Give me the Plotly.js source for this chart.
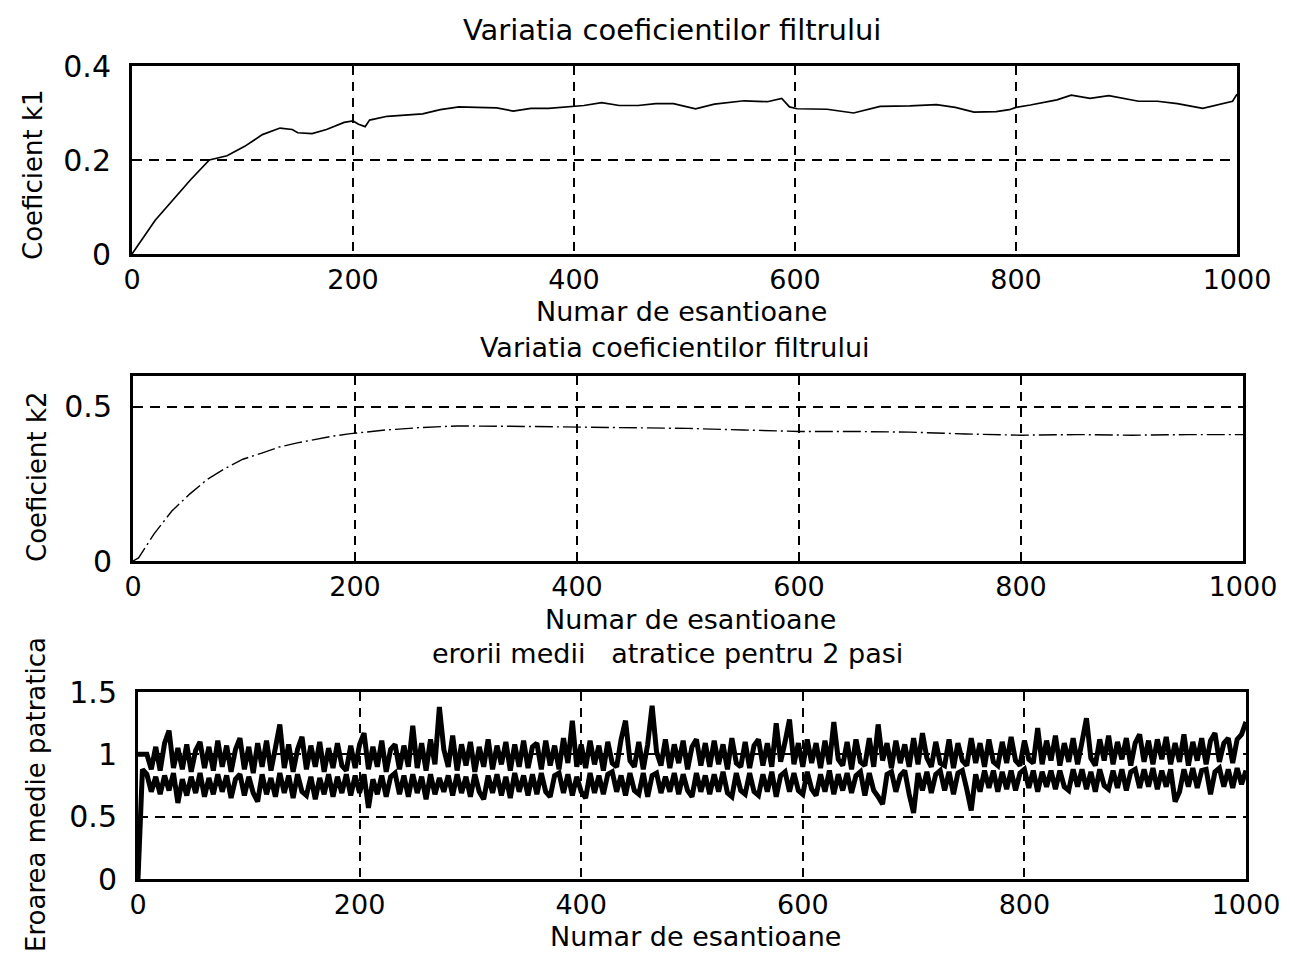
<!DOCTYPE html>
<html><head><meta charset="utf-8">
<script src="https://cdn.plot.ly/plotly-3.0.1.min.js"></script>
<style>html,body{margin:0;padding:0;background:#fff}#chart{width:1295px;height:955px}</style>
</head><body><div id="chart"></div>
<script>
// ---------- text ----------
const titleCoef = "Variatia coeficientilor filtrului";
const titleErr = "erorii medii\u00a0\u00a0 atratice pentru 2 pasi";
const xTitle = "Numar de esantioane";
const yTitleK1 = "Coeficient k1";
const yTitleK2 = "Coeficient k2";
const yTitleErr = "Eroarea medie patratica";

// ---------- ticks ----------
const xTickVals = [0, 200, 400, 600, 800, 1000];
const xTickText = ["0", "200", "400", "600", "800", "1000"];
const k1TickVals = [0, 0.2, 0.4];
const k1TickText = ["0", "0.2", "0.4"];
const k2TickVals = [0, 0.5];
const k2TickText = ["0", "0.5"];
const errTickVals = [0, 0.5, 1, 1.5];
const errTickText = ["0", "0.5", "1", "1.5"];

// ---------- data ----------
const k1Samples = [0, 10, 21, 37, 53, 70, 86, 102, 118, 134, 145, 150, 163, 176, 192, 200, 205, 211, 215, 231, 247, 263, 279, 296, 312, 330, 345, 361, 377, 396, 409, 425, 441, 458, 474, 490, 510, 527, 554, 575, 588, 595, 602, 629, 653, 677, 704, 728, 745, 762, 782, 794, 800, 813, 837, 850, 867, 884, 898, 911, 928, 946, 969, 986, 996, 1000];
const k1Values = [0, 0.035, 0.072, 0.115, 0.158, 0.200, 0.209, 0.229, 0.254, 0.268, 0.265, 0.258, 0.256, 0.265, 0.280, 0.283, 0.276, 0.271, 0.285, 0.293, 0.296, 0.298, 0.307, 0.313, 0.312, 0.311, 0.304, 0.310, 0.310, 0.313, 0.316, 0.322, 0.316, 0.316, 0.320, 0.320, 0.309, 0.319, 0.326, 0.324, 0.331, 0.313, 0.309, 0.308, 0.300, 0.314, 0.315, 0.318, 0.312, 0.302, 0.303, 0.307, 0.312, 0.317, 0.328, 0.338, 0.331, 0.337, 0.330, 0.325, 0.325, 0.320, 0.310, 0.320, 0.325, 0.340];

const k2Samples = [0, 5, 19, 35, 51, 67, 83, 99, 116, 132, 148, 164, 180, 196, 210, 228, 260, 292, 340, 370, 400, 450, 500, 550, 600, 650, 700, 750, 800, 850, 900, 950, 1000];
const k2Values = [0, 0.010, 0.088, 0.162, 0.217, 0.265, 0.300, 0.330, 0.350, 0.370, 0.383, 0.395, 0.405, 0.413, 0.418, 0.425, 0.433, 0.438, 0.437, 0.436, 0.435, 0.434, 0.430, 0.425, 0.420, 0.420, 0.418, 0.412, 0.408, 0.410, 0.408, 0.410, 0.410];

const errStep = 4; // samples between stored values
const errUpper = [
1.00, 1.00, 1.00, 0.88, 1.06, 0.87, 1.09, 1.19, 0.89, 1.05,
0.88, 1.08, 0.86, 1.03, 1.10, 0.89, 1.06, 0.87, 1.11, 0.90,
1.07, 0.86, 1.04, 1.13, 0.88, 1.06, 0.85, 1.09, 0.90, 1.11,
0.87, 1.05, 1.24, 0.89, 1.08, 0.86, 1.04, 1.14, 0.88, 1.07,
0.90, 1.10, 0.86, 1.05, 0.89, 1.09, 0.91, 0.87, 1.07, 0.89,
1.08, 1.17, 0.88, 1.06, 0.90, 1.11, 0.86, 1.04, 1.08, 0.88,
1.07, 0.90, 1.23, 0.89, 1.09, 0.87, 1.12, 0.92, 1.38, 1.04,
0.90, 1.15, 0.87, 1.08, 0.91, 1.10, 0.86, 1.06, 0.90, 1.12,
0.88, 1.07, 0.92, 1.10, 0.87, 1.08, 0.90, 1.11, 0.89, 1.06,
1.09, 0.88, 1.11, 0.91, 1.07, 0.88, 1.13, 0.93, 1.27, 0.90,
1.08, 0.89, 1.11, 0.92, 1.07, 0.87, 1.10, 0.93, 0.90, 1.12,
1.27, 0.95, 0.90, 1.10, 0.88, 1.08, 1.39, 1.02, 0.91, 1.12,
0.89, 1.08, 0.93, 1.11, 0.88, 1.06, 1.12, 0.91, 1.09, 0.90,
1.11, 0.92, 1.08, 0.88, 1.13, 0.93, 0.90, 1.10, 0.89, 1.07,
1.12, 0.91, 1.09, 0.90, 1.25, 0.94, 1.10, 1.28, 0.92, 1.09,
0.90, 1.12, 0.93, 1.09, 0.89, 1.11, 0.92, 1.26, 0.96, 0.91,
1.10, 0.88, 1.12, 0.94, 0.91, 1.13, 0.90, 1.24, 0.95, 1.09,
0.89, 1.11, 0.93, 1.08, 0.90, 1.13, 0.92, 1.17, 0.97, 0.90,
1.10, 0.93, 0.91, 1.12, 0.89, 1.09, 0.95, 0.91, 1.13, 0.93,
1.09, 0.90, 1.12, 0.94, 0.91, 1.10, 0.93, 1.14, 0.95, 0.91,
1.11, 0.96, 0.93, 1.21, 0.92, 1.11, 0.95, 1.15, 0.91, 1.09,
0.94, 1.13, 0.92, 1.10, 1.29, 0.97, 0.91, 1.12, 0.95, 1.15,
0.92, 1.10, 0.96, 1.13, 0.91, 1.09, 1.16, 0.94, 1.11, 0.92,
1.12, 0.96, 1.14, 0.92, 1.09, 0.94, 1.16, 0.91, 1.10, 0.95,
1.13, 0.92, 1.11, 1.17, 0.94, 1.09, 1.13, 0.93, 1.12, 1.16,
1.26];
const errLower = [
0.00, 0.88, 0.84, 0.70, 0.82, 0.68, 0.83, 0.71, 0.85, 0.61,
0.80, 0.67, 0.82, 0.69, 0.85, 0.66, 0.81, 0.68, 0.84, 0.70,
0.83, 0.65, 0.80, 0.84, 0.67, 0.82, 0.69, 0.62, 0.84, 0.68,
0.81, 0.66, 0.85, 0.69, 0.83, 0.65, 0.84, 0.70, 0.67, 0.82,
0.64, 0.81, 0.68, 0.84, 0.66, 0.82, 0.69, 0.84, 0.67, 0.83,
0.69, 0.84, 0.57, 0.80, 0.68, 0.83, 0.66, 0.82, 0.85, 0.68,
0.83, 0.66, 0.84, 0.69, 0.82, 0.64, 0.84, 0.68, 0.81, 0.70,
0.83, 0.67, 0.84, 0.69, 0.82, 0.66, 0.84, 0.70, 0.64, 0.83,
0.69, 0.84, 0.67, 0.82, 0.65, 0.85, 0.70, 0.83, 0.67, 0.84,
0.68, 0.85, 0.70, 0.66, 0.83, 0.85, 0.69, 0.84, 0.67, 0.82,
0.70, 0.65, 0.85, 0.69, 0.83, 0.68, 0.84, 0.86, 0.70, 0.83,
0.67, 0.85, 0.71, 0.68, 0.85, 0.66, 0.83, 0.85, 0.69, 0.82,
0.70, 0.85, 0.68, 0.84, 0.71, 0.66, 0.85, 0.70, 0.83, 0.68,
0.84, 0.70, 0.86, 0.69, 0.66, 0.85, 0.71, 0.68, 0.85, 0.70,
0.67, 0.84, 0.70, 0.86, 0.66, 0.83, 0.86, 0.70, 0.85, 0.71,
0.68, 0.86, 0.72, 0.67, 0.84, 0.70, 0.87, 0.68, 0.84, 0.71,
0.85, 0.69, 0.83, 0.86, 0.67, 0.85, 0.71, 0.66, 0.60, 0.84,
0.86, 0.70, 0.83, 0.87, 0.68, 0.53, 0.85, 0.71, 0.86, 0.69,
0.84, 0.87, 0.71, 0.86, 0.68, 0.85, 0.87, 0.72, 0.55, 0.84,
0.70, 0.87, 0.73, 0.87, 0.70, 0.86, 0.72, 0.87, 0.71, 0.85,
0.88, 0.73, 0.87, 0.70, 0.86, 0.74, 0.87, 0.72, 0.87, 0.74,
0.71, 0.88, 0.74, 0.88, 0.72, 0.86, 0.70, 0.88, 0.75, 0.72,
0.87, 0.73, 0.88, 0.71, 0.86, 0.88, 0.73, 0.88, 0.74, 0.89,
0.72, 0.87, 0.74, 0.88, 0.62, 0.70, 0.88, 0.74, 0.89, 0.73,
0.87, 0.88, 0.68, 0.86, 0.89, 0.74, 0.88, 0.73, 0.89, 0.76,
0.87];

// ---------- layout helpers (pixel -> paper) ----------
const W = 1295, H = 955;
const px = v => v / W;
const py = v => 1 - v / H;
const FONT = "DejaVu Sans, Verdana, sans-serif";
const BLACK = "#000";
const TICK_SIZE = 27, TITLE_SIZE = 27, YTITLE_SIZE = 26;

function xAxis(left, right, anchor) {
  return {
    domain: [px(left), px(right)], range: [0, 1000], anchor: anchor,
    tickmode: "array", tickvals: xTickVals, ticktext: xTickText,
    showgrid: true, gridcolor: BLACK, gridwidth: 2, griddash: "9px,7px",
    showline: true, linecolor: BLACK, linewidth: 3, mirror: true,
    zeroline: false, ticks: "", ticklabelstandoff: 0,
    tickfont: {family: FONT, size: TICK_SIZE, color: BLACK}, fixedrange: true
  };
}
function yAxis(top, bottom, range, vals, text, anchor) {
  return {
    domain: [py(bottom), py(top)], range: range, anchor: anchor,
    tickmode: "array", tickvals: vals, ticktext: text,
    showgrid: true, gridcolor: BLACK, gridwidth: 2, griddash: "10px,7px",
    showline: true, linecolor: BLACK, linewidth: 3, mirror: true,
    zeroline: false, ticks: "", ticklabelstandoff: 12,
    tickfont: {family: FONT, size: TICK_SIZE + 3, color: BLACK}, fixedrange: true
  };
}
function label(text, x, y, size, opts) {
  return Object.assign({
    text: text, x: px(x), y: py(y), xref: "paper", yref: "paper",
    showarrow: false, xanchor: "center", yanchor: "middle",
    font: {family: FONT, size: size, color: BLACK}
  }, opts || {});
}

const traces = [
  {x: k1Samples, y: k1Values, xaxis: "x", yaxis: "y", mode: "lines",
   line: {color: BLACK, width: 1.7}, hoverinfo: "skip"},
  {x: k2Samples, y: k2Values, xaxis: "x2", yaxis: "y2", mode: "lines",
   line: {color: BLACK, width: 1.4, dash: "18px,4px,2px,4px"}, hoverinfo: "skip"},
  {y: errUpper, x0: 0, dx: errStep, xaxis: "x3", yaxis: "y3", mode: "lines",
   line: {color: BLACK, width: 5, simplify: false}, hoverinfo: "skip"},
  {y: errLower, x0: 0, dx: errStep, xaxis: "x3", yaxis: "y3", mode: "lines",
   line: {color: BLACK, width: 5, simplify: false}, hoverinfo: "skip"}
];

const layout = {
  width: W, height: H, margin: {l: 0, r: 0, t: 0, b: 0},
  paper_bgcolor: "#fff", plot_bgcolor: "#fff", showlegend: false,
  xaxis: xAxis(132, 1237, "y"),
  yaxis: yAxis(66, 254, [0, 0.4], k1TickVals, k1TickText, "x"),
  xaxis2: xAxis(133, 1243, "y2"),
  yaxis2: yAxis(376, 561, [0, 0.6], k2TickVals, k2TickText, "x2"),
  xaxis3: xAxis(138, 1246, "y3"),
  yaxis3: yAxis(692, 879, [0, 1.5], errTickVals, errTickText, "x3"),
  annotations: [
    label(titleCoef, 672, 30, TITLE_SIZE + 2),
    label(xTitle, 681, 312, TITLE_SIZE),
    label(titleCoef, 675, 347, TITLE_SIZE),
    label(xTitle, 690, 619, TITLE_SIZE),
    label(titleErr, 430, 653, TITLE_SIZE, {xanchor: "left"}),
    label(xTitle, 695, 936, TITLE_SIZE),
    label(yTitleK1, 33, 175, YTITLE_SIZE, {textangle: -90}),
    label(yTitleK2, 37, 477, YTITLE_SIZE, {textangle: -90}),
    label(yTitleErr, 36, 795, YTITLE_SIZE, {textangle: -90})
  ]
};

Plotly.newPlot("chart", traces, layout, {staticPlot: true, displayModeBar: false});
</script>
</body></html>
